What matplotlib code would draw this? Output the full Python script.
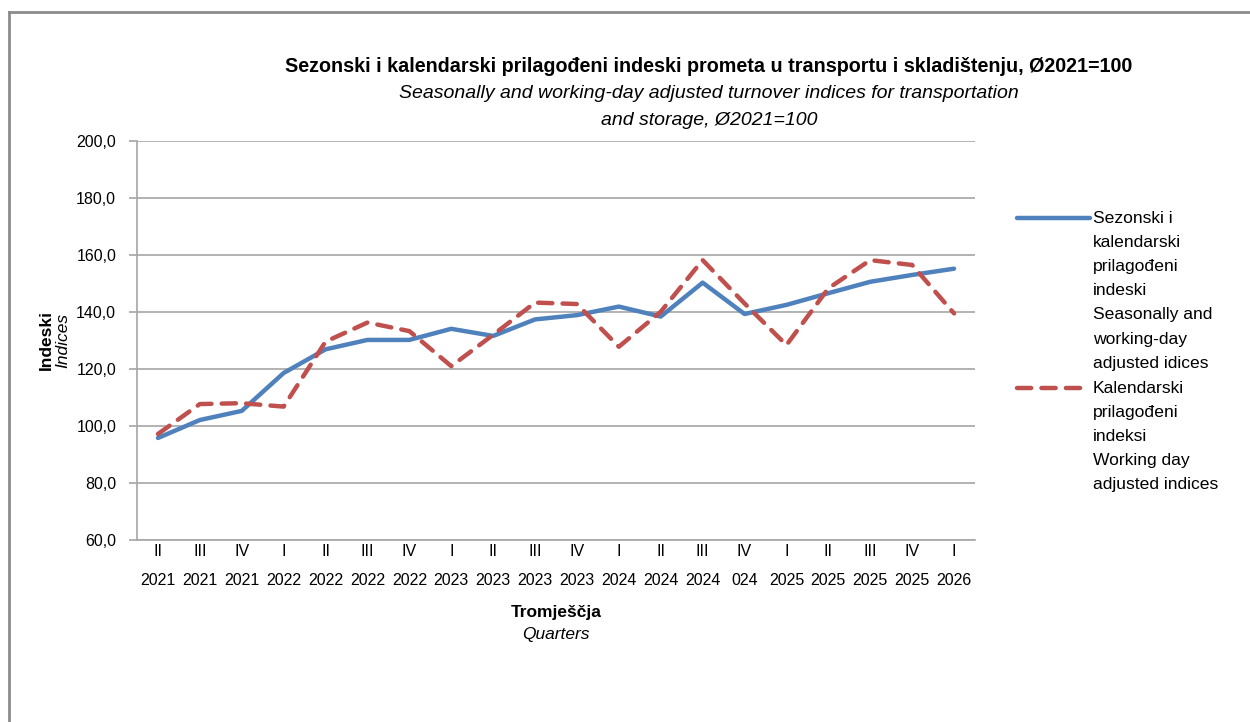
import numpy as np
import matplotlib.pyplot as plt
from matplotlib.lines import Line2D

quarters = ['II', 'III', 'IV', 'I', 'II', 'III', 'IV', 'I', 'II', 'III',
            'IV', 'I', 'II', 'III', 'IV', 'I', 'II', 'III', 'IV', 'I']
years = ['2021', '2021', '2021', '2022', '2022', '2022', '2022', '2023', '2023', '2023',
         '2023', '2024', '2024', '2024', '024', '2025', '2025', '2025', '2025', '2026']

# seasonally and working-day adjusted
sa_values = [95.8, 102.1, 105.3, 118.6, 126.9, 130.2, 130.2, 134.1, 131.6, 137.4,
             138.9, 141.9, 138.4, 150.3, 139.3, 142.5, 146.6, 150.6, 153.0, 155.2]
# working-day adjusted
wd_values = [97.2, 107.7, 108.0, 106.8, 129.6, 136.3, 133.3, 121.0, 132.0, 143.3,
             142.8, 127.8, 140.1, 158.2, 143.0, 128.4, 148.3, 158.2, 156.5, 139.5]

yticks = [60, 80, 100, 120, 140, 160, 180, 200]

plt.rcParams['font.family'] = ['Liberation Sans Narrow', 'Liberation Sans', 'DejaVu Sans']

blue = '#4F81BD'
red = '#C0504D'
grid_col = '#A6A6A6'
dash = (0, (3.2, 2.3))

fig = plt.figure(figsize=(12.5, 7.22), dpi=100)
ax = fig.add_axes([137 / 1250, 1 - 540 / 722, (975 - 137) / 1250, (540 - 141) / 722])

x = np.arange(len(sa_values))
ax.plot(x, sa_values, color=blue, lw=3.2, solid_capstyle='round', zorder=3)
ax.plot(x, wd_values, color=red, lw=3.2, linestyle=dash, dash_capstyle='round', zorder=3)

ax.set_xlim(-0.5, len(x) - 0.5)
ax.set_ylim(60, 200)
ax.set_yticks(yticks)
ax.set_yticklabels([f'{v:.1f}'.replace('.', ',') for v in yticks], fontsize=11.5)
ax.set_xticks(x)
ax.set_xticklabels([q + '\n' + y for q, y in zip(quarters, years)],
                   fontsize=11.5, linespacing=2.15)
ax.tick_params(axis='x', length=0, pad=3)
ax.tick_params(axis='y', length=6, color=grid_col, width=1.2, pad=9)

ax.grid(axis='y', color=grid_col, lw=1.2)
ax.set_axisbelow(True)
for s in ['top', 'right']:
    ax.spines[s].set_visible(False)
for s in ['left', 'bottom']:
    ax.spines[s].set_color(grid_col)
    ax.spines[s].set_linewidth(1.2)

# titles
fig.text(709 / 1250, 1 - 66 / 722,
         'Sezonski i kalendarski prilagođeni indeski prometa u transportu i skladištenju, Ø2021=100',
         ha='center', va='center', fontsize=14.2, fontweight='bold')
fig.text(709 / 1250, 1 - 107 / 722,
         'Seasonally and working-day adjusted turnover indices for transportation\nand storage, Ø2021=100',
         ha='center', va='center', fontsize=14, style='italic', linespacing=1.72)

# axis titles
fig.text(46 / 1250, 1 - 340 / 722, 'Indeski', rotation=90, ha='center', va='center',
         fontsize=12.5, fontweight='bold')
fig.text(63 / 1250, 1 - 340 / 722, 'Indices', rotation=90, ha='center', va='center',
         fontsize=12.5, style='italic')
fig.text(556 / 1250, 1 - 613 / 722, 'Tromješčja', ha='center', va='center',
         fontsize=12.5, fontweight='bold')
fig.text(556 / 1250, 1 - 635 / 722, 'Quarters', ha='center', va='center',
         fontsize=12.5, style='italic')

# legend
leg_font = ['Liberation Sans', 'DejaVu Sans']
fig.add_artist(Line2D([1017 / 1250, 1090 / 1250], [1 - 218 / 722] * 2, color=blue, lw=3.2,
                      solid_capstyle='round'))
fig.add_artist(Line2D([1017 / 1250, 1090 / 1250], [1 - 388 / 722] * 2, color=red, lw=3.2,
                      linestyle=dash, dash_capstyle='round'))
fig.text(1093 / 1250, 1 - 211 / 722,
         'Sezonski i\nkalendarski\nprilagođeni\nindeski\nSeasonally and\nworking-day\nadjusted idices',
         ha='left', va='top', fontsize=12.6, family=leg_font, linespacing=1.76)
fig.text(1093 / 1250, 1 - 381 / 722,
         'Kalendarski\nprilagođeni\nindeksi\nWorking day\nadjusted indices',
         ha='left', va='top', fontsize=12.6, family=leg_font, linespacing=1.76)

# outer frame
fig.add_artist(Line2D([9 / 1250, 9 / 1250], [0, 1 - 12 / 722], color='#8C8C8C', lw=2))
fig.add_artist(Line2D([9 / 1250, 1], [1 - 12 / 722] * 2, color='#8C8C8C', lw=2))

fig.savefig('out.png', dpi=100)
